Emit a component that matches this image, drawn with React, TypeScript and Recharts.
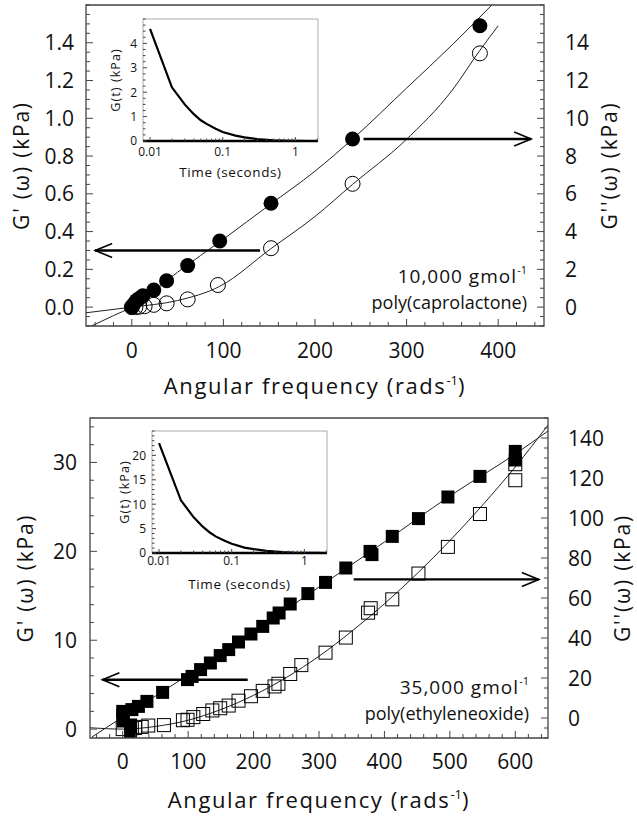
import React from 'react';
import {
  ComposedChart,
  LineChart,
  Line,
  Scatter,
  XAxis,
  YAxis,
  ReferenceArea,
  ReferenceLine,
  Label,
} from 'recharts';

// ---- top panel: 10,000 gmol-1 poly(caprolactone)
const pclFilledFreq = [0, 2, 5, 8, 12, 24, 38, 61, 96, 152, 241, 380];
const pclFilledG2 = [0, 0.15, 0.35, 0.45, 0.6, 0.9, 1.4, 2.2, 3.5, 5.5, 8.9, 14.9];
const pclOpenFreq = [0, 4, 8, 14, 24, 38, 61, 94, 152, 241, 380];
const pclOpenG1 = [0, 0, 0.002, 0.005, 0.012, 0.02, 0.041, 0.117, 0.312, 0.653, 1.344];
const pclFitG2Freq = [-44, -20, 0, 50, 100, 150, 200, 241, 300, 350, 393];
const pclFitG2 = [-1.0, -0.45, 0, 1.85, 3.6, 5.4, 7.2, 8.9, 11.6, 13.9, 16.0];
const pclFitG1Freq = [-50, -25, 0, 50, 96, 152, 200, 241, 298, 350, 380, 400];
const pclFitG1 = [-0.03, -0.015, 0, 0.035, 0.11, 0.31, 0.48, 0.65, 0.88, 1.15, 1.36, 1.49];
const pclRelaxTime = [0.01, 0.02, 0.03, 0.04, 0.05, 0.06, 0.08, 0.1, 0.15, 0.2, 0.3, 0.5, 0.7, 1, 1.5, 2];
const pclRelaxG = [4.6, 2.2, 1.5, 1.1, 0.85, 0.7, 0.5, 0.37, 0.22, 0.15, 0.08, 0.03, 0.015, 0.01, 0, 0];

// ---- bottom panel: 35,000 gmol-1 poly(ethyleneoxide)
const peoFilledFreq = [0, 0, 1, 12, 12, 14, 24, 37, 61, 99, 106, 119, 134, 149, 162, 177, 196, 214, 230, 239, 256, 283, 310, 341, 378, 381, 412, 452, 497, 546, 600, 600];
const peoFilledG2 = [3.3, 1.2, -1.5, -3.5, -6.5, 4.2, 5.8, 8.3, 12.8, 19.2, 20.8, 24.2, 27.5, 31.2, 34.2, 38, 42, 45.8, 50, 52.5, 57, 62.2, 67.8, 75, 83.3, 81.7, 90.8, 99.7, 110.5, 120.8, 129, 133.3];
const peoOpenFreq = [0, 14, 19, 29, 39, 63, 92, 99, 108, 123, 137, 149, 162, 177, 196, 214, 232, 238, 256, 273, 310, 341, 375, 379, 412, 452, 497, 546, 600, 600];
const peoOpenG1 = [0, 0.1, 0.13, 0.25, 0.4, 0.45, 1.0, 1.05, 1.35, 1.7, 2.1, 2.35, 2.65, 3.2, 3.7, 4.3, 4.8, 5.1, 6.2, 7.2, 8.6, 10.3, 13.1, 13.6, 14.6, 17.5, 20.5, 24.2, 28.0, 29.8];
const peoFitG2Freq = [-47, 0, 100, 200, 300, 400, 500, 600, 650];
const peoFitG2 = [-9.5, 0.5, 21.5, 43, 65.5, 88, 111, 132, 143.5];
const peoFitG1Freq = [-50, -25, 0, 50, 100, 150, 200, 250, 300, 350, 400, 450, 500, 550, 600, 650];
const peoFitG1 = [0.15, 0.05, 0, 0.3, 1.0, 2.2, 3.8, 5.8, 8.2, 11.0, 14.1, 17.5, 21.2, 25.2, 29.5, 34.2];
const peoRelaxTime = [0.01, 0.02, 0.03, 0.04, 0.05, 0.06, 0.08, 0.1, 0.15, 0.2, 0.3, 0.5, 0.7, 1, 1.5, 2];
const peoRelaxG = [22.5, 10.8, 7.3, 5.4, 4.2, 3.4, 2.5, 1.9, 1.1, 0.8, 0.45, 0.2, 0.1, 0.05, 0.02, 0];

// tick labels
const pclLeftLabels = [0, 0.2, 0.4, 0.6, 0.8, 1.0, 1.2, 1.4];
const pclRightLabels = [0, 2, 4, 6, 8, 10, 12, 14];
const pclFreqLabels = [0, 100, 200, 300, 400];
const peoLeftLabels = [0, 10, 20, 30];
const peoRightLabels = [0, 20, 40, 60, 80, 100, 120, 140];
const peoFreqLabels = [0, 100, 200, 300, 400, 500, 600];
const pclRelaxLabels = [0, 1, 2, 3, 4];
const peoRelaxLabels = [0, 5, 10, 15, 20];
const timeLabels = [0.01, 0.1, 1];
const timeMinor = [0.02, 0.03, 0.04, 0.05, 0.06, 0.07, 0.08, 0.09, 0.2, 0.3, 0.4, 0.5, 0.6, 0.7, 0.8, 0.9, 2];

const FONT = '"Open Sans", sans-serif';
const INK = '#111';
const FRAME = '#444';

const pts = (xs: number[], ys: number[]) => xs.map((x, i) => ({ x, y: ys[i] }));
const steps = (from: number, to: number, step: number) => {
  const n = Math.round((to - from) / step);
  return Array.from({ length: n + 1 }, (_, i) => +(from + i * step).toFixed(4));
};
const isIn = (list: number[], v: number) => list.some((m) => Math.abs(m - v) < 1e-6);

type TickStyle = { size: number; gap: number; major: number; minor: number };
const mainTick: TickStyle = { size: 21, gap: 12, major: 7, minor: 4 };
const insetTick: TickStyle = { size: 12, gap: 6, major: 4, minor: 2.5 };

const makeTick =
  (side: 'left' | 'right' | 'bottom', labels: number[], fmt: (v: number) => string, s: TickStyle, labelDy = 0) =>
  (p: any) => {
    const { x, y, payload } = p;
    const v = payload.value;
    const major = isIn(labels, v);
    const len = major ? s.major : s.minor;
    let line;
    let text = null;
    if (side === 'left') {
      line = <line x1={x} y1={y} x2={x + len} y2={y} stroke={FRAME} strokeWidth={1} />;
      if (major)
        text = (
          <text x={x - s.gap} y={y} dy="0.36em" textAnchor="end" fontSize={s.size} fontFamily={FONT} fill={INK}>
            {fmt(v)}
          </text>
        );
    } else if (side === 'right') {
      line = <line x1={x} y1={y} x2={x - len} y2={y} stroke={FRAME} strokeWidth={1} />;
      if (major)
        text = (
          <text x={x + s.gap} y={y} dy="0.36em" textAnchor="start" fontSize={s.size} fontFamily={FONT} fill={INK}>
            {fmt(v)}
          </text>
        );
    } else {
      line = <line x1={x} y1={y} x2={x} y2={y - len} stroke={FRAME} strokeWidth={1} />;
      if (major)
        text = (
          <text x={x} y={y + s.gap + labelDy} dy="0.36em" textAnchor="middle" fontSize={s.size} fontFamily={FONT} fill={INK}>
            {fmt(v)}
          </text>
        );
    }
    return (
      <g>
        {line}
        {text}
      </g>
    );
  };

const FilledCircle = (p: any) => <circle cx={p.cx} cy={p.cy} r={7.5} fill="#000" />;
const OpenCircle = (p: any) => <circle cx={p.cx} cy={p.cy} r={7.5} fill="none" stroke="#000" strokeWidth={1} />;
const FilledSquare = (p: any) => <rect x={p.cx - 6.5} y={p.cy - 6.5} width={13} height={13} fill="#000" />;
const OpenSquare = (p: any) => (
  <rect x={p.cx - 6.5} y={p.cy - 6.5} width={13} height={13} fill="none" stroke="#000" strokeWidth={1} />
);

const Arrow = (p: any) => {
  const { x1, y1, x2, y2 } = p;
  const d = x2 < x1 ? 1 : -1;
  return (
    <g>
      <line x1={x1} y1={y1} x2={x2} y2={y2} stroke="#000" strokeWidth={2.4} />
      <polyline
        points={`${x2 + d * 17},${y2 - 7} ${x2},${y2} ${x2 + d * 17},${y2 + 7}`}
        fill="none"
        stroke="#000"
        strokeWidth={1.6}
      />
    </g>
  );
};

const xTitle = (dy: number) => (p: any) => {
  const vb = p.viewBox;
  const x = vb.x + vb.width / 2;
  const y = vb.y + dy;
  return (
    <text x={x} y={y} textAnchor="middle" fontSize={22} letterSpacing={1.6} fontFamily={FONT} fill={INK}>
      Angular frequency (rads
      <tspan dy={-9} fontSize={13} letterSpacing={0}>
        -1
      </tspan>
      <tspan dy={9}>)</tspan>
    </text>
  );
};

const yTitle = (dx: number, text: string, size = 21, spacing = 1.8) => (p: any) => {
  const vb = p.viewBox;
  const x = vb.x + dx;
  const y = vb.y + vb.height / 2;
  return (
    <text
      x={x}
      y={y}
      dy="0.36em"
      transform={`rotate(-90, ${x}, ${y})`}
      textAnchor="middle"
      fontSize={size}
      letterSpacing={spacing}
      fontFamily={FONT}
      fill={INK}
    >
      {text}
    </text>
  );
};

const insetXTitle = (dy: number) => (p: any) => {
  const vb = p.viewBox;
  return (
    <text
      x={vb.x + vb.width / 2}
      y={vb.y + dy}
      dy="0.36em"
      textAnchor="middle"
      fontSize={13.5}
      letterSpacing={0.6}
      fontFamily={FONT}
      fill={INK}
    >
      Time (seconds)
    </text>
  );
};

const Note = ({ x, y, weight, polymer }: { x: number; y: number; weight: string; polymer: string }) => (
  <g fontFamily={FONT} fontSize={18} fill={INK}>
    <text x={x - 10} y={y} textAnchor="end" fontSize={19} letterSpacing={1}>
      {weight} gmol
    </text>
    <text x={x} y={y - 9} textAnchor="end" fontSize={11}>
      -1
    </text>
    <text x={x} y={y + 26} textAnchor="end">
      {polymer}
    </text>
  </g>
);

type InsetProps = { time: number[]; g: number[]; yMax: number; yLabels: number[]; yMinor: number; labelDy: number };
const Inset = ({ time, g, yMax, yLabels, yMinor, labelDy }: InsetProps) => (
  <LineChart width={230} height={185} margin={{ top: 19, right: 12, bottom: 0, left: 0 }}>
    <XAxis
      dataKey="x"
      type="number"
      scale="log"
      domain={[0.008, 2.05]}
      allowDataOverflow
      ticks={[...timeLabels, ...timeMinor]}
      interval={0}
      height={44}
      axisLine={false}
      tickLine={false}
      tickSize={0}
      tickMargin={0}
      tick={makeTick('bottom', timeLabels, (v) => String(v), insetTick, labelDy)}
    >
      <Label content={insetXTitle(31)} />
    </XAxis>
    <YAxis
      dataKey="y"
      type="number"
      domain={[0, yMax]}
      allowDataOverflow
      ticks={steps(0, yMax, yMinor)}
      interval={0}
      width={43}
      axisLine={false}
      tickLine={false}
      tickSize={0}
      tickMargin={0}
      tick={makeTick('left', yLabels, (v) => String(v), insetTick)}
    >
      <Label content={yTitle(15, 'G(t) (kPa)', 12.5, 1.1)} />
    </YAxis>
    <ReferenceArea x1={0.008} x2={2.05} y1={0} y2={yMax} fill="none" stroke="#aaa" strokeWidth={1} />
    <ReferenceLine y={0} stroke="#000" strokeWidth={2.6} />
    <Line data={pts(time, g)} dataKey="y" type="linear" stroke="#000" strokeWidth={2.2} dot={false} isAnimationActive={false} />
  </LineChart>
);

export default function App() {
  return (
    <div style={{ position: 'absolute', left: 0, top: 0, width: 637, height: 818, background: '#fff' }}>
      {/* top panel */}
      <div style={{ position: 'absolute', left: 0, top: 0 }}>
        <ComposedChart width={637} height={410} margin={{ top: 5, right: 0, bottom: 0, left: 0 }}>
          <XAxis
            dataKey="x"
            type="number"
            domain={[-50, 450]}
            allowDataOverflow
            ticks={steps(-40, 440, 20)}
            interval={0}
            height={84}
            axisLine={false}
            tickLine={false}
            tickSize={0}
            tickMargin={0}
            tick={makeTick('bottom', pclFreqLabels, (v) => String(v), mainTick, 12)}
          >
            <Label content={xTitle(68)} />
          </XAxis>
          <YAxis
            yAxisId="left"
            dataKey="y"
            type="number"
            domain={[-0.1, 1.6]}
            allowDataOverflow
            ticks={steps(-0.1, 1.6, 0.05)}
            interval={0}
            width={86}
            axisLine={false}
            tickLine={false}
            tickSize={0}
            tickMargin={0}
            tick={makeTick('left', pclLeftLabels, (v) => v.toFixed(1), mainTick)}
          >
            <Label content={yTitle(21, "G' (ω) (kPa)")} />
          </YAxis>
          <YAxis
            yAxisId="right"
            orientation="right"
            dataKey="y"
            type="number"
            domain={[-1, 16]}
            allowDataOverflow
            ticks={steps(-1, 16, 0.5)}
            interval={0}
            width={93}
            axisLine={false}
            tickLine={false}
            tickSize={0}
            tickMargin={0}
            tick={makeTick('right', pclRightLabels, (v) => String(v), { ...mainTick, gap: 21 })}
          >
            <Label content={yTitle(65, "G''(ω) (kPa)")} />
          </YAxis>
          <ReferenceArea yAxisId="left" x1={-50} x2={450} y1={-0.1} y2={1.6} fill="none" stroke={FRAME} strokeWidth={1.3} />
          <Line yAxisId="right" data={pts(pclFitG2Freq, pclFitG2)} dataKey="y" type="monotone" stroke="#222" strokeWidth={1} dot={false} isAnimationActive={false} />
          <Line yAxisId="left" data={pts(pclFitG1Freq, pclFitG1)} dataKey="y" type="monotone" stroke="#222" strokeWidth={1} dot={false} isAnimationActive={false} />
          <Scatter yAxisId="left" data={pts(pclOpenFreq, pclOpenG1)} dataKey="y" shape={OpenCircle} isAnimationActive={false} />
          <Scatter yAxisId="right" data={pts(pclFilledFreq, pclFilledG2)} dataKey="y" shape={FilledCircle} isAnimationActive={false} />
          <ReferenceLine yAxisId="left" segment={[{ x: 140, y: 0.3 }, { x: -40, y: 0.3 }]} shape={Arrow} />
          <ReferenceLine yAxisId="right" segment={[{ x: 253, y: 8.9 }, { x: 436, y: 8.9 }]} shape={Arrow} />
        </ComposedChart>
        <svg width={637} height={410} style={{ position: 'absolute', left: 0, top: 0, pointerEvents: 'none' }}>
          <Note x={527} y={283} weight="10,000" polymer="poly(caprolactone)" />
        </svg>
        <div style={{ position: 'absolute', left: 100, top: 0 }}>
          <Inset time={pclRelaxTime} g={pclRelaxG} yMax={5} yLabels={pclRelaxLabels} yMinor={0.25} labelDy={5} />
        </div>
      </div>

      {/* bottom panel */}
      <div style={{ position: 'absolute', left: 0, top: 400 }}>
        <ComposedChart width={637} height={418} margin={{ top: 18, right: 0, bottom: 0, left: 0 }}>
          <XAxis
            dataKey="x"
            type="number"
            domain={[-50, 650]}
            allowDataOverflow
            ticks={steps(-40, 640, 20)}
            interval={0}
            height={80}
            axisLine={false}
            tickLine={false}
            tickSize={0}
            tickMargin={0}
            tick={makeTick('bottom', peoFreqLabels, (v) => String(v), mainTick, 11)}
          >
            <Label content={xTitle(70)} />
          </XAxis>
          <YAxis
            yAxisId="left"
            dataKey="y"
            type="number"
            domain={[-1, 35]}
            allowDataOverflow
            ticks={steps(0, 34, 2)}
            interval={0}
            width={90}
            axisLine={false}
            tickLine={false}
            tickSize={0}
            tickMargin={0}
            tick={makeTick('left', peoLeftLabels, (v) => String(v), { ...mainTick, gap: 13 })}
          >
            <Label content={yTitle(25, "G' (ω) (kPa)")} />
          </YAxis>
          <YAxis
            yAxisId="right"
            orientation="right"
            dataKey="y"
            type="number"
            domain={[-10, 150]}
            allowDataOverflow
            ticks={steps(-10, 150, 5)}
            interval={0}
            width={89}
            axisLine={false}
            tickLine={false}
            tickSize={0}
            tickMargin={0}
            tick={makeTick('right', peoRightLabels, (v) => String(v), { ...mainTick, gap: 20 })}
          >
            <Label content={yTitle(74, "G''(ω) (kPa)")} />
          </YAxis>
          <ReferenceArea yAxisId="left" x1={-50} x2={650} y1={-1} y2={35} fill="none" stroke={FRAME} strokeWidth={1.3} />
          <Line yAxisId="right" data={pts(peoFitG2Freq, peoFitG2)} dataKey="y" type="monotone" stroke="#222" strokeWidth={1} dot={false} isAnimationActive={false} />
          <Line yAxisId="left" data={pts(peoFitG1Freq, peoFitG1)} dataKey="y" type="monotone" stroke="#222" strokeWidth={1} dot={false} isAnimationActive={false} />
          <Scatter yAxisId="left" data={pts(peoOpenFreq, peoOpenG1)} dataKey="y" shape={OpenSquare} isAnimationActive={false} />
          <Scatter yAxisId="right" data={pts(peoFilledFreq, peoFilledG2)} dataKey="y" shape={FilledSquare} isAnimationActive={false} />
          <ReferenceLine yAxisId="left" segment={[{ x: 191, y: 5.56 }, { x: -31, y: 5.56 }]} shape={Arrow} />
          <ReferenceLine yAxisId="right" segment={[{ x: 353, y: 69.3 }, { x: 636, y: 69.3 }]} shape={Arrow} />
        </ComposedChart>
        <svg width={637} height={418} style={{ position: 'absolute', left: 0, top: 0, pointerEvents: 'none' }}>
          <Note x={529} y={294} weight="35,000" polymer="poly(ethyleneoxide)" />
        </svg>
        <div style={{ position: 'absolute', left: 109, top: 12 }}>
          <Inset time={peoRelaxTime} g={peoRelaxG} yMax={25} yLabels={peoRelaxLabels} yMinor={1} labelDy={2} />
        </div>
      </div>
    </div>
  );
}
